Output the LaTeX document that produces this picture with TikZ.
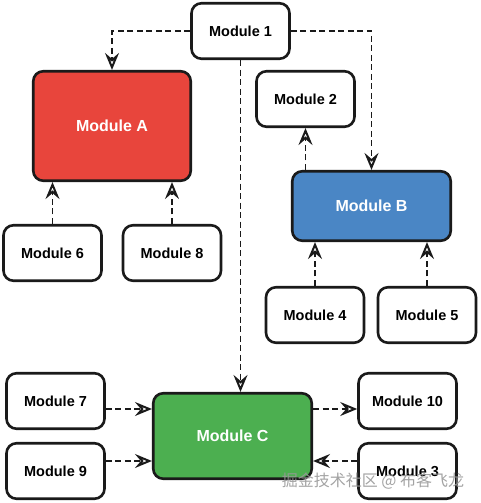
\documentclass[tikz,border=0pt]{standalone}
\usepackage{fontspec}
\setmainfont{Liberation Sans}
\newfontfamily\cjk{Noto Sans CJK SC}
\usetikzlibrary{arrows.meta,calc}
\definecolor{modred}{HTML}{E8453C}
\definecolor{modblue}{HTML}{4A86C5}
\definecolor{modgreen}{HTML}{4CAF50}
\definecolor{edgec}{HTML}{1A1A1A}
\begin{document}
\begin{tikzpicture}[x=1pt,y=-1pt,
  box/.style={draw=edgec, line width=2.6pt, rounded corners=10pt, fill=white,
    minimum width=98pt, minimum height=55.5pt, inner sep=0pt,
    font=\fontsize{14.5}{16}\selectfont\bfseries, text=black},
  bigbox/.style={box, font=\fontsize{16}{18}\selectfont\bfseries, text=white},
  arr/.style={draw=edgec, line width=1.6pt, dash pattern=on 6pt off 3.5pt,
    -{Stealth[open, length=17pt, width=14pt, inset=6pt, line width=2pt, fill=white]}},
  wm/.style={font=\cjk\fontsize{16}{18}\selectfont, text=gray!80, opacity=0.9, inner sep=0pt}
]
\useasboundingbox (0,0) rectangle (480,503);
% nodes
\node[box] (m1) at (240.5,31) {Module 1};
\node[bigbox, fill=modred, minimum width=157.5pt, minimum height=109.5pt] (a) at (112,126) {Module A};
\node[box] (m2) at (305.5,99) {Module 2};
\node[bigbox, fill=modblue, minimum width=158.5pt, minimum height=69.5pt] (b) at (371.5,206) {Module B};
\node[box] (m6) at (52.5,253) {Module 6};
\node[box] (m8) at (172,253) {Module 8};
\node[box] (m4) at (315,315) {Module 4};
\node[box] (m5) at (427,315) {Module 5};
\node[box] (m7) at (55.5,401) {Module 7};
\node[box] (m9) at (55.5,471) {Module 9};
\node[bigbox, fill=modgreen, minimum width=158.5pt, minimum height=85.5pt] (c) at (232.5,436) {Module C};
\node[box] (m10) at (407.5,401) {Module 10};
\node[box] (m3) at (407.5,471) {Module 3};
% connectors
\draw[arr] (m1.west) -| (a.north);
\draw[arr] (m1.east) -| (b.north);
\draw[arr] (m1.south) -- (m1.south |- c.north);
\draw[arr] (m2.south |- b.north) -- (m2.south);
\draw[arr] (m6.north) -- (m6.north |- a.south);
\draw[arr] (m8.north) -- (m8.north |- a.south);
\draw[arr] (m4.north) -- (m4.north |- b.south);
\draw[arr] (m5.north) -- (m5.north |- b.south);
\draw[arr] ([yshift=-8pt]m7.east) -- ([yshift=-8pt]m7.east -| c.west);
\draw[arr] ([yshift=10pt]m9.east) -- ([yshift=10pt]m9.east -| c.west);
\draw[arr] ([yshift=-8pt]m10.west -| c.east) -- ([yshift=-8pt]m10.west);
\draw[arr] ([yshift=10pt]m3.west) -- ([yshift=10pt]m3.west -| c.east);
% watermark
\node[wm] (wmk) at (373,481) {掘金技术社区 @ 布客飞龙};
\end{tikzpicture}
\end{document}
